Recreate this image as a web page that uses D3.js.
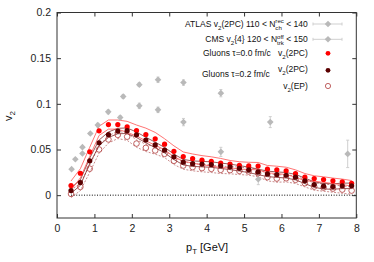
<!DOCTYPE html>
<html>
<head>
<meta charset="utf-8">
<script src="https://cdn.jsdelivr.net/npm/d3@7/dist/d3.min.js"></script>
<style>
body { margin: 0; background: #fff; }
svg { display: block; font-family: "Liberation Sans", Arial, sans-serif; }
</style>
</head>
<body>
<script>
// pT bins of the gluon calculation
var pt = [0.375, 0.625, 0.875, 1.125, 1.375, 1.625, 1.875, 2.125, 2.375, 2.625, 2.875,
          3.125, 3.375, 3.625, 3.875, 4.125, 4.375, 4.625, 4.875, 5.125, 5.375, 5.625,
          5.875, 6.125, 6.375, 6.625, 6.875, 7.125, 7.375, 7.625, 7.875];

// Gluons tau=0.0 fm/c, v2(2PC)
var v2Tau00 = [0.0105, 0.024, 0.0475, 0.0704, 0.0773, 0.0773, 0.0748, 0.0708, 0.0664, 0.0617, 0.0558,
               0.048, 0.0423, 0.0401, 0.0383, 0.037, 0.0352, 0.034, 0.0326, 0.032, 0.0318, 0.0285,
               0.0277, 0.0266, 0.0237, 0.0197, 0.0182, 0.0171, 0.0157, 0.0146, 0.013];
var errTau00 = [0.005, 0.005, 0.005, 0.005, 0.005, 0.005, 0.006, 0.006, 0.007, 0.007, 0.006,
                0.006, 0.005, 0.005, 0.005, 0.005, 0.005, 0.004, 0.004, 0.004, 0.004, 0.004,
                0.004, 0.004, 0.004, 0.004, 0.003, 0.003, 0.003, 0.003, 0.003];

// Gluons tau=0.2 fm/c, v2(2PC)
var v2Tau02 = [0.005, 0.0138, 0.0376, 0.0573, 0.0662, 0.0702, 0.0706, 0.0661, 0.0604, 0.055, 0.0493,
               0.042, 0.0361, 0.0345, 0.034, 0.0335, 0.0322, 0.031, 0.0294, 0.0277, 0.0255, 0.0233,
               0.0225, 0.0218, 0.0197, 0.0157, 0.0116, 0.0098, 0.0094, 0.0102, 0.0102];
var errTau02 = [0.003, 0.003, 0.003, 0.003, 0.003, 0.003, 0.003, 0.003, 0.003, 0.003, 0.003,
                0.003, 0.003, 0.003, 0.003, 0.003, 0.003, 0.003, 0.003, 0.003, 0.003, 0.003,
                0.003, 0.003, 0.003, 0.003, 0.003, 0.003, 0.003, 0.003, 0.003];

// Gluons tau=0.2 fm/c, v2(EP)
var v2Tau02EP = [0.0014, 0.009, 0.029, 0.05, 0.061, 0.066, 0.064, 0.0565, 0.0518, 0.0489, 0.0452,
                 0.0376, 0.0324, 0.0307, 0.0296, 0.0288, 0.0277, 0.0274, 0.0266, 0.0259, 0.0241, 0.0197,
                 0.0182, 0.0185, 0.0168, 0.0131, 0.0094, 0.0083, 0.0072, 0.0061, 0.005];
var errTau02EP = [0.004, 0.004, 0.004, 0.004, 0.004, 0.004, 0.004, 0.004, 0.004, 0.004, 0.004,
                  0.004, 0.004, 0.004, 0.004, 0.004, 0.004, 0.004, 0.004, 0.004, 0.004, 0.004,
                  0.004, 0.004, 0.004, 0.004, 0.004, 0.004, 0.004, 0.004, 0.004];

// ATLAS v2(2PC)
var atlasPt = [0.49, 0.68, 0.89, 1.37, 1.77, 2.2, 2.7, 3.38, 4.38, 5.7, 7.77];
var atlasV2 = [0.0394, 0.0526, 0.0675, 0.0912, 0.108, 0.121, 0.1263, 0.1233, 0.1117, 0.08, 0.0452];
var atlasErr = [0.001, 0.001, 0.001, 0.002, 0.002, 0.002, 0.003, 0.003, 0.004, 0.006, 0.015];

// CMS v2{4}
var cmsPt = [0.39, 0.68, 1.09, 1.69, 2.2, 2.7, 3.38, 4.38, 5.38];
var cmsV2 = [0.0285, 0.0456, 0.0767, 0.085, 0.0978, 0.0934, 0.08, 0.0474, 0.0175];
var cmsErr = [0.001, 0.001, 0.002, 0.002, 0.003, 0.003, 0.004, 0.005, 0.006];

var xTicks = [0, 1, 2, 3, 4, 5, 6, 7, 8];
var yTicks = [0, 0.05, 0.1, 0.15, 0.2];

var W = 374, H = 262;
var plotL = 57, plotR = 356.3, plotT = 12.5, plotB = 218;

var svg = d3.select("body").append("svg")
    .attr("width", W)
    .attr("height", H);

var x = d3.scaleLinear().domain([0, 8]).range([plotL, plotR]);
var y = d3.scaleLinear().domain([-0.025, 0.2]).range([plotB, plotT]);

//axes, ticks pointing inside like gnuplot
var xAxis = d3.axisBottom(x).tickValues(xTicks).tickSizeInner(-4).tickSizeOuter(0).tickPadding(7).tickFormat(d3.format("d"));
var yAxis = d3.axisLeft(y).tickValues(yTicks).tickSizeInner(-4).tickSizeOuter(0).tickPadding(6).tickFormat(function(d) { return d === 0 ? "0" : String(+d.toFixed(3)); });
var xTop = d3.axisTop(x).tickValues(xTicks).tickSizeInner(-4).tickSizeOuter(0).tickFormat("");
var yRight = d3.axisRight(y).tickValues(yTicks).tickSizeInner(-4).tickSizeOuter(0).tickFormat("");

function styleAxis(g) {
    g.select(".domain").remove();
    g.selectAll(".tick line").attr("stroke", "#333").attr("stroke-width", 1);
    g.selectAll(".tick text").attr("fill", "#222").style("font-size", "10.5px").style("font-family", "'Liberation Sans', Arial, sans-serif");
}

svg.append("g").attr("transform", "translate(0," + plotB + ")").call(xAxis).call(styleAxis);
svg.append("g").attr("transform", "translate(" + plotL + ",0)").call(yAxis).call(styleAxis);
svg.append("g").attr("transform", "translate(0," + plotT + ")").call(xTop).call(styleAxis);
svg.append("g").attr("transform", "translate(" + plotR + ",0)").call(yRight).call(styleAxis);

//zero line (dotted)
svg.append("line")
    .attr("x1", x(0.375)).attr("x2", x(8))
    .attr("y1", y(0)).attr("y2", y(0))
    .attr("stroke", "#000").attr("stroke-width", 1)
    .attr("stroke-dasharray", "1,1.6");

//bands
function band(vals, errs, sign) {
    return d3.line()
        .x(function(d, i) { return x(pt[i]); })
        .y(function(d, i) { return y(vals[i] + sign * errs[i]); })(vals);
}

var bands = [
    {v: v2Tau02EP, e: errTau02EP, color: "#b35a5a", dash: "2,1.5", w: 0.7},
    {v: v2Tau02, e: errTau02, color: "#6e1010", dash: null, w: 0.7},
    {v: v2Tau00, e: errTau00, color: "#ff5050", dash: null, w: 0.8}
];
bands.forEach(function(b) {
    [-1, 1].forEach(function(s) {
        svg.append("path")
            .attr("d", band(b.v, b.e, s))
            .attr("fill", "none")
            .attr("stroke", b.color)
            .attr("stroke-width", b.w)
            .attr("stroke-dasharray", b.dash);
    });
});

//experimental points
function diamond(g, cx, cy) {
    var r = 3.3;
    g.append("path")
        .attr("d", "M" + cx + "," + (cy - r) + "L" + (cx + r) + "," + cy + "L" + cx + "," + (cy + r) + "L" + (cx - r) + "," + cy + "Z")
        .attr("fill", "#b9b9b9");
}

function expData(xs, vs, es) {
    var g = svg.append("g");
    xs.forEach(function(p, i) {
        g.append("line")
            .attr("x1", x(p)).attr("x2", x(p))
            .attr("y1", y(vs[i] - es[i])).attr("y2", y(vs[i] + es[i]))
            .attr("stroke", "#cfcfcf").attr("stroke-width", 1);
        g.append("line")
            .attr("x1", x(p) - 1.5).attr("x2", x(p) + 1.5)
            .attr("y1", y(vs[i] - es[i])).attr("y2", y(vs[i] - es[i]))
            .attr("stroke", "#cfcfcf").attr("stroke-width", 1);
        g.append("line")
            .attr("x1", x(p) - 1.5).attr("x2", x(p) + 1.5)
            .attr("y1", y(vs[i] + es[i])).attr("y2", y(vs[i] + es[i]))
            .attr("stroke", "#cfcfcf").attr("stroke-width", 1);
        diamond(g, x(p), y(vs[i]));
    });
}
expData(atlasPt, atlasV2, atlasErr);
expData(cmsPt, cmsV2, cmsErr);

//model points
svg.append("g").selectAll("circle")
    .data(v2Tau02EP).enter().append("circle")
    .attr("cx", function(d, i) { return x(pt[i]); })
    .attr("cy", function(d) { return y(d); })
    .attr("r", 2.8)
    .attr("fill", "none")
    .attr("stroke", "#b03a3a")
    .attr("stroke-width", 0.8);

svg.append("g").selectAll("circle")
    .data(v2Tau00).enter().append("circle")
    .attr("cx", function(d, i) { return x(pt[i]); })
    .attr("cy", function(d) { return y(d); })
    .attr("r", 2.6)
    .attr("fill", "#ff0000");

svg.append("g").selectAll("circle")
    .data(v2Tau02).enter().append("circle")
    .attr("cx", function(d, i) { return x(pt[i]); })
    .attr("cy", function(d) { return y(d); })
    .attr("r", 2.6)
    .attr("fill", "#5a0000");

//frame
svg.append("rect")
    .attr("x", plotL).attr("y", plotT)
    .attr("width", plotR - plotL).attr("height", plotB - plotT)
    .attr("fill", "none").attr("stroke", "#333").attr("stroke-width", 1);

//rich text helper: parts are [string, kind]; kind "", "sub", "sup", "stack" (sup then sub)
function measure(str, size) {
    var t = svg.append("text").style("font-size", size + "px").text(str);
    var w = t.node().getComputedTextLength();
    t.remove();
    return w;
}

function richText(px, py, parts, size, anchor) {
    var t = svg.append("text")
        .attr("x", 0).attr("y", py)
        .attr("fill", "#111")
        .style("font-size", size + "px");
    var off = 0, pendingDx = 0;
    parts.forEach(function(p) {
        var s = p[0], kind = p[1] || "";
        var small = size * 0.72;
        if (kind === "") {
            t.append("tspan").attr("dx", pendingDx).attr("dy", -off).text(s);
            off = 0;
        } else if (kind === "sub") {
            var o = size * 0.3;
            t.append("tspan").attr("dx", pendingDx).attr("dy", o - off).style("font-size", small + "px").text(s);
            off = o;
        } else if (kind === "sup") {
            var o2 = -size * 0.38;
            t.append("tspan").attr("dx", pendingDx).attr("dy", o2 - off).style("font-size", small + "px").text(s);
            off = o2;
        } else if (kind === "stack") {
            var up = s[0], dn = s[1];
            var w1 = measure(up, small), w2 = measure(dn, small);
            var o3 = -size * 0.42, o4 = size * 0.32;
            t.append("tspan").attr("dx", pendingDx).attr("dy", o3 - off).style("font-size", small + "px").text(up);
            t.append("tspan").attr("dx", -w1).attr("dy", o4 - o3).style("font-size", small + "px").text(dn);
            off = o4;
            pendingDx = Math.max(w1, w2) - w2;
            return;
        }
        pendingDx = 0;
    });
    var w = t.node().getBBox().width;
    t.attr("x", anchor === "end" ? px - w : px);
    return t;
}

//axis titles
var ytitle = richText(0, 0, [["v", ""], ["2", "sub"]], 11, "start");
ytitle.attr("x", 0).attr("y", 0);
ytitle.attr("transform", "translate(12,121) rotate(-90)");
richText(207 - 21, 251, [["p", ""], ["T", "sub"], [" [GeV]", ""]], 11, "start");

//legend
var lx = 308, sx = 328, lf = 8.5;
richText(lx, 27, [["ATLAS v", ""], ["2", "sub"], ["(2PC) 110 < N", ""], [["rec", "ch"], "stack"], [" < 140", ""]], lf, "end");
richText(lx, 42.3, [["CMS v", ""], ["2", "sub"], ["{4} 120 < N", ""], [["off", "trk"], "stack"], [" < 150", ""]], lf, "end");
richText(203, 56.3, [["Gluons  \u03c4=0.0 fm/c", ""]], lf, "start");
richText(lx, 56.3, [["v", ""], ["2", "sub"], ["(2PC)", ""]], lf, "end");
richText(lx, 72.3, [["v", ""], ["2", "sub"], ["(2PC)", ""]], lf, "end");
richText(202, 77, [["Gluons  \u03c4=0.2 fm/c", ""]], lf, "start");
richText(lx, 89, [["v", ""], ["2", "sub"], ["(EP)", ""]], lf, "end");

[24, 39.3].forEach(function(ly) {
    svg.append("line").attr("x1", 313).attr("x2", 342).attr("y1", ly).attr("y2", ly)
        .attr("stroke", "#cfcfcf").attr("stroke-width", 1);
    svg.append("line").attr("x1", 313).attr("x2", 313).attr("y1", ly - 1.5).attr("y2", ly + 1.5)
        .attr("stroke", "#cfcfcf").attr("stroke-width", 1);
    svg.append("line").attr("x1", 342).attr("x2", 342).attr("y1", ly - 1.5).attr("y2", ly + 1.5)
        .attr("stroke", "#cfcfcf").attr("stroke-width", 1);
    diamond(svg, sx, ly);
});
svg.append("circle").attr("cx", sx).attr("cy", 53.3).attr("r", 2.4).attr("fill", "#ff0000");
svg.append("circle").attr("cx", sx).attr("cy", 70.3).attr("r", 2.4).attr("fill", "#5a0000");
svg.append("circle").attr("cx", sx).attr("cy", 86).attr("r", 2.6).attr("fill", "none")
    .attr("stroke", "#b03a3a").attr("stroke-width", 0.8);
</script>
</body>
</html>
